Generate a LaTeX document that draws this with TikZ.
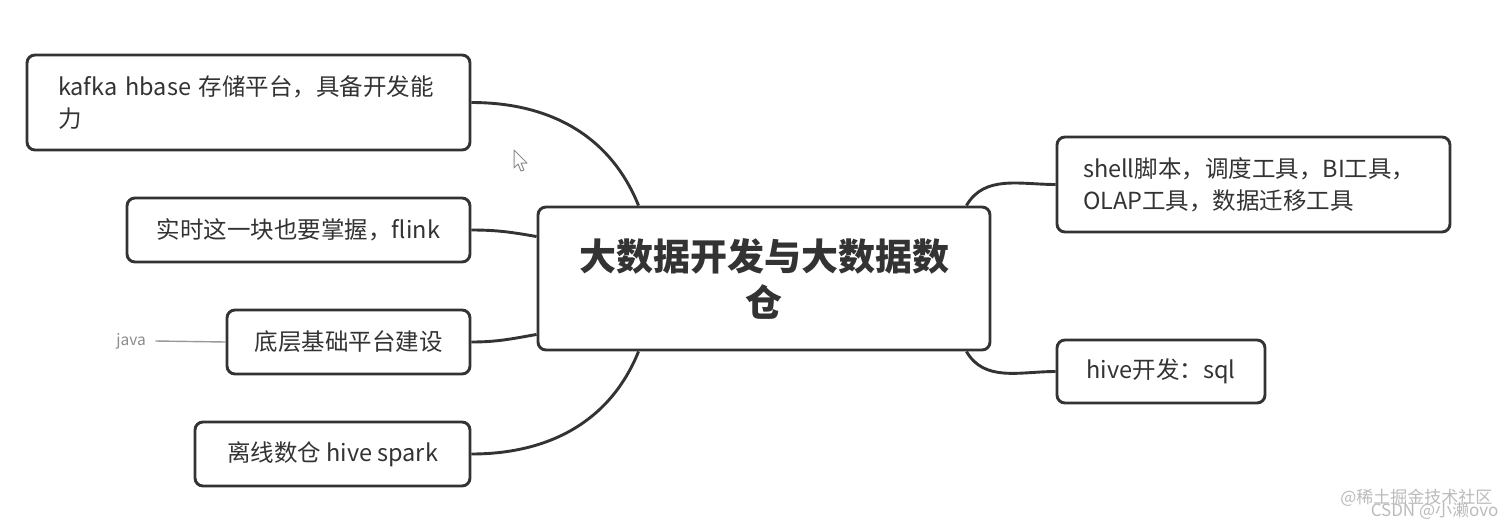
\documentclass[tikz,border=0pt]{standalone}
\usepackage{fontspec}
\setmainfont{Noto Sans CJK SC}
\usetikzlibrary{calc}
\definecolor{ink}{HTML}{333333}
\definecolor{txt}{HTML}{333333}
\definecolor{wm}{HTML}{BBBBBB}
\begin{document}
\begin{tikzpicture}[x=1pt,y=-1pt,
  box/.style={draw=ink,line width=2.9pt,rounded corners=8pt,fill=white,
    text=txt,font=\fontsize{23.5}{32}\selectfont,inner sep=0pt},
  link/.style={draw=ink,line width=2.9pt},
]
\useasboundingbox (0,0) rectangle (1512,528);
\fill[white] (0,0) rectangle (1512,528);

% centre
\node[box,minimum width=452,minimum height=143,align=center,
  font=\fontsize{37}{46}\selectfont\bfseries,text=ink] (c) at (764,278.5)
  {大数据开发与大数据数\\仓};

% left boxes
\node[box,minimum width=443,minimum height=95,align=left,text width=381,
  inner xsep=31pt] (k) at (248.5,102.5)
  {kafka hbase 存储平台，具备开发能\\力};
\node[box,minimum width=343,minimum height=64] (s) at (298.5,230)
  {实时这一块也要掌握，flink};
\node[box,minimum width=243,minimum height=64] (d) at (348.5,342)
  {底层基础平台建设};
\node[box,minimum width=275,minimum height=64] (l) at (332.5,454)
  {离线数仓 hive spark};

% right boxes
\node[box,minimum width=393,minimum height=95,align=left,text width=341,
  inner xsep=26pt] (r1) at (1253.5,184.5)
  {shell脚本，调度工具，BI工具，\\OLAP工具，数据迁移工具};
\node[box,minimum width=208,minimum height=63] (r2) at (1161,371.5)
  {hive开发：sql};

% java label
\node[text=gray!90,font=\fontsize{15.5}{17}\selectfont] (j) at (131,341) {java};

% anchor coordinates on centre box
\coordinate (ctl) at ($(c.north west)+(102,0)$);
\coordinate (cbl) at ($(c.south west)+(102,0)$);
\coordinate (ctr) at ($(c.north east)+(-25,0)$);
\coordinate (cbr) at ($(c.south east)+(-25,0)$);
\coordinate (cl1) at ($(c.north west)+(0,31)$);
\coordinate (cl2) at ($(c.south west)+(0,-17)$);
\coordinate (jl) at ($(j.east)+(6,0)$);

% connectors
\draw[link] (k.east) to[out=0,in=112] (ctl);
\draw[link] (s.east) to[out=0,in=170] (cl1);
\draw[link] (d.east) to[out=0,in=190] (cl2);
\draw[link] (l.east) to[out=0,in=-112] (cbl);
\draw[link] (ctr) to[out=60,in=180] (r1.west);
\draw[link] (cbr) to[out=-60,in=180] (r2.west);
\draw[draw=gray!80,line width=1.4pt] (jl) -- (d.west);

% mouse cursor
\draw[draw=gray!90,line width=1pt,fill=white,line join=round]
  (514,150) -- (514,168) -- (518,164) -- (521,171) -- (524,170) -- (521,163) -- (527,163) -- cycle;

% watermarks
\node[text=wm,font=\fontsize{17}{19}\selectfont,anchor=east] (w1) at (1496,498) {@稀土掘金技术社区};
\node[text=wm,font=\fontsize{17}{19}\selectfont,anchor=east] (w2) at (1502,511) {CSDN @小濑ovo};
\end{tikzpicture}
\end{document}
